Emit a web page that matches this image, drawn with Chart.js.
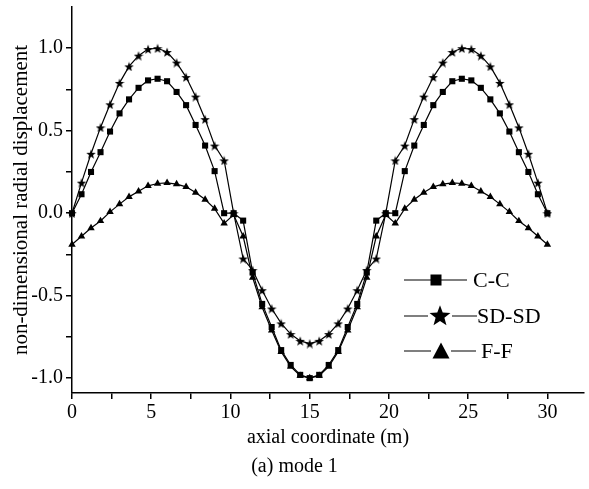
<!DOCTYPE html>
<html>
<head>
<meta charset="utf-8">
<script src="https://cdn.jsdelivr.net/npm/chart.js@4.4.1/dist/chart.umd.min.js"></script>
<style>
  html, body { margin: 0; padding: 0; background: #fff; }
  #wrap { width: 589px; height: 489px; }
</style>
</head>
<body>
<div id="wrap"><canvas id="mode-chart" width="589" height="489"></canvas></div>
<script>
// node positions along the shell (m)
const axialCoord = [0, 0.6, 1.2, 1.8, 2.4, 3.0, 3.6, 4.2, 4.8, 5.4, 6.0, 6.6, 7.2, 7.8, 8.4, 9.0, 9.6,
    10.2, 10.8, 11.4, 12.0, 12.6, 13.2, 13.8, 14.4, 15.0, 15.6, 16.2, 16.8, 17.4, 18.0, 18.6, 19.2, 19.8,
    20.4, 21.0, 21.6, 22.2, 22.8, 23.4, 24.0, 24.6, 25.2, 25.8, 26.4, 27.0, 27.6, 28.2, 28.8, 29.4, 30.0];

// non-dimensional radial displacement, mode 1
const ccDisp = [0, 0.115, 0.25, 0.37, 0.495, 0.605, 0.69, 0.76, 0.805, 0.815, 0.80, 0.735, 0.655, 0.535, 0.41, 0.255, 0.0,
    0.0, -0.045, -0.36, -0.55, -0.69, -0.83, -0.92, -0.98, -1.0, -0.98, -0.92, -0.83, -0.69, -0.55, -0.36, -0.045, 0.0,
    0.0, 0.255, 0.41, 0.535, 0.655, 0.735, 0.80, 0.815, 0.805, 0.76, 0.69, 0.605, 0.495, 0.37, 0.25, 0.115, 0];
const sdDisp = [0, 0.185, 0.36, 0.52, 0.66, 0.79, 0.89, 0.955, 0.995, 1.0, 0.977, 0.913, 0.825, 0.707, 0.57, 0.41, 0.32,
    0.0, -0.275, -0.345, -0.467, -0.578, -0.668, -0.733, -0.774, -0.79, -0.774, -0.733, -0.668, -0.578, -0.467, -0.345, -0.275, 0.0,
    0.32, 0.41, 0.57, 0.707, 0.825, 0.913, 0.977, 1.0, 0.995, 0.955, 0.89, 0.79, 0.66, 0.52, 0.36, 0.185, 0];
const ffDisp = [-0.19, -0.14, -0.09, -0.047, 0.008, 0.055, 0.099, 0.133, 0.166, 0.18, 0.184, 0.176, 0.16, 0.125, 0.083, 0.028, -0.062,
    -0.01, -0.14, -0.39, -0.57, -0.71, -0.84, -0.93, -0.985, -1.0, -0.985, -0.93, -0.84, -0.71, -0.57, -0.39, -0.14, -0.01,
    -0.062, 0.028, 0.083, 0.125, 0.16, 0.176, 0.184, 0.18, 0.166, 0.133, 0.099, 0.055, 0.008, -0.047, -0.09, -0.14, -0.19];

const seriesLabels = ['C-C', 'SD-SD', 'F-F'];
const xTicks = [0, 2.5, 5, 7.5, 10, 12.5, 15, 17.5, 20, 22.5, 25, 27.5, 30];
const yTicks = [-1.0, -0.75, -0.5, -0.25, 0.0, 0.25, 0.5, 0.75, 1.0];

const serif = '"Liberation Serif", "Times New Roman", serif';
Chart.defaults.font.family = serif;
Chart.defaults.color = '#000';

// filled five-point star, used as a point marker
function starMarker(size) {
    const c = document.createElement('canvas');
    c.width = size;
    c.height = size;
    const g = c.getContext('2d');
    const outer = size / 2, inner = outer * 0.42;
    const cx = size / 2, cy = size / 2 + size * 0.06;
    g.beginPath();
    for (let i = 0; i < 10; i++) {
        const r = i % 2 ? inner : outer;
        const a = -Math.PI / 2 + i * Math.PI / 5;
        g.lineTo(cx + r * Math.cos(a), cy + r * Math.sin(a));
    }
    g.closePath();
    g.fillStyle = '#000';
    g.fill();
    return c;
}

function toPoints(ys) {
    return axialCoord.map((x, i) => ({ x: x, y: ys[i] }));
}

function series(label, ys, style, radius) {
    return {
        label: label,
        data: toPoints(ys),
        borderColor: '#000',
        borderWidth: 1.2,
        backgroundColor: '#000',
        pointBackgroundColor: '#000',
        pointBorderWidth: 0,
        pointStyle: style,
        pointRadius: radius,
        tension: 0,
        clip: false
    };
}

// legend drawn inside the plot, lower right
const legendRows = [
    { y: 280, markX: 436, lineEnd: 467, textX: 473 },
    { y: 316, markX: 440, lineEnd: 477, textX: 477 },
    { y: 351, markX: 441, lineEnd: 476, textX: 481 }
];
const legendStar = starMarker(22);

const insideLegend = {
    id: 'insideLegend',
    afterDraw(chart) {
        const ctx = chart.ctx;
        chart.data.datasets.forEach((ds, i) => {
            const row = legendRows[i];
            ctx.save();
            ctx.strokeStyle = '#000';
            ctx.lineWidth = 1.2;
            ctx.beginPath();
            ctx.moveTo(404, row.y);
            ctx.lineTo(row.lineEnd, row.y);
            ctx.stroke();
            ctx.fillStyle = '#000';
            if (i === 0) {
                ctx.fillRect(row.markX - 5.5, row.y - 5.5, 11, 11);
            } else if (i === 1) {
                ctx.fillStyle = '#fff';
                ctx.fillRect(row.markX - 12, row.y - 11, 24, 22);
                ctx.drawImage(legendStar, row.markX - 11, row.y - 12);
            } else {
                ctx.fillStyle = '#fff';
                ctx.fillRect(row.markX - 10, row.y - 9, 20, 18);
                ctx.fillStyle = '#000';
                ctx.beginPath();
                ctx.moveTo(row.markX, row.y - 8.5);
                ctx.lineTo(row.markX + 8.5, row.y + 7.5);
                ctx.lineTo(row.markX - 8.5, row.y + 7.5);
                ctx.closePath();
                ctx.fill();
            }
            ctx.font = '22px ' + serif;
            ctx.textBaseline = 'middle';
            ctx.textAlign = 'left';
            ctx.fillStyle = '#000';
            ctx.fillText(ds.label, row.textX, row.y + 1);
            ctx.restore();
        });
    }
};

const ctxMode = document.getElementById('mode-chart').getContext('2d');
new Chart(ctxMode, {
    type: 'line',
    data: {
        datasets: [
            series(seriesLabels[0], ccDisp, 'rect', 4.3),
            series(seriesLabels[1], sdDisp, starMarker(10), 5),
            series(seriesLabels[2], ffDisp, 'triangle', 4.3)
        ]
    },
    options: {
        responsive: false,
        animation: false,
        events: [],
        layout: { padding: { top: 7, right: 0, bottom: 0, left: 0 } },
        plugins: {
            legend: { display: false },
            tooltip: { enabled: false },
            title: {
                display: true,
                position: 'bottom',
                text: '(a) mode 1',
                font: { size: 20, weight: 'normal' },
                color: '#000',
                padding: { top: 0, bottom: 10 }
            }
        },
        scales: {
            x: {
                type: 'linear',
                min: 0,
                max: 32.31,
                afterBuildTicks(scale) {
                    scale.ticks = xTicks.map(v => ({ value: v }));
                },
                afterFit(scale) {
                    scale.height = 62;
                    scale.paddingLeft = 0;
                    scale.paddingRight = 0;
                },
                ticks: {
                    autoSkip: false,
                    maxRotation: 0,
                    padding: 2,
                    font: { size: 20 },
                    callback: v => (v % 5 === 0 ? String(v) : '')
                },
                grid: { drawOnChartArea: false, drawTicks: true, tickLength: 6, color: '#000', lineWidth: 1.5 },
                border: { display: true, color: '#000', width: 1.5 },
                title: {
                    display: true,
                    text: 'axial coordinate (m)',
                    font: { size: 20 },
                    padding: { top: 0, bottom: 5 }
                }
            },
            y: {
                min: -1.09,
                max: 1.25,
                afterBuildTicks(scale) {
                    scale.ticks = yTicks.map(v => ({ value: v }));
                },
                afterFit(scale) {
                    scale.width = 72;
                    scale.paddingTop = 0;
                    scale.paddingBottom = 0;
                },
                ticks: {
                    autoSkip: false,
                    padding: 3,
                    font: { size: 20 },
                    callback: v => (Math.abs(v * 2 - Math.round(v * 2)) < 1e-9 ? v.toFixed(1) : '')
                },
                grid: { drawOnChartArea: false, drawTicks: true, tickLength: 6, color: '#000', lineWidth: 1.5 },
                border: { display: true, color: '#000', width: 1.5 },
                title: {
                    display: true,
                    text: 'non-dimensional radial displacement',
                    font: { size: 21 },
                    padding: { top: 9, bottom: 0 }
                }
            }
        }
    },
    plugins: [insideLegend]
});
</script>
</body>
</html>
